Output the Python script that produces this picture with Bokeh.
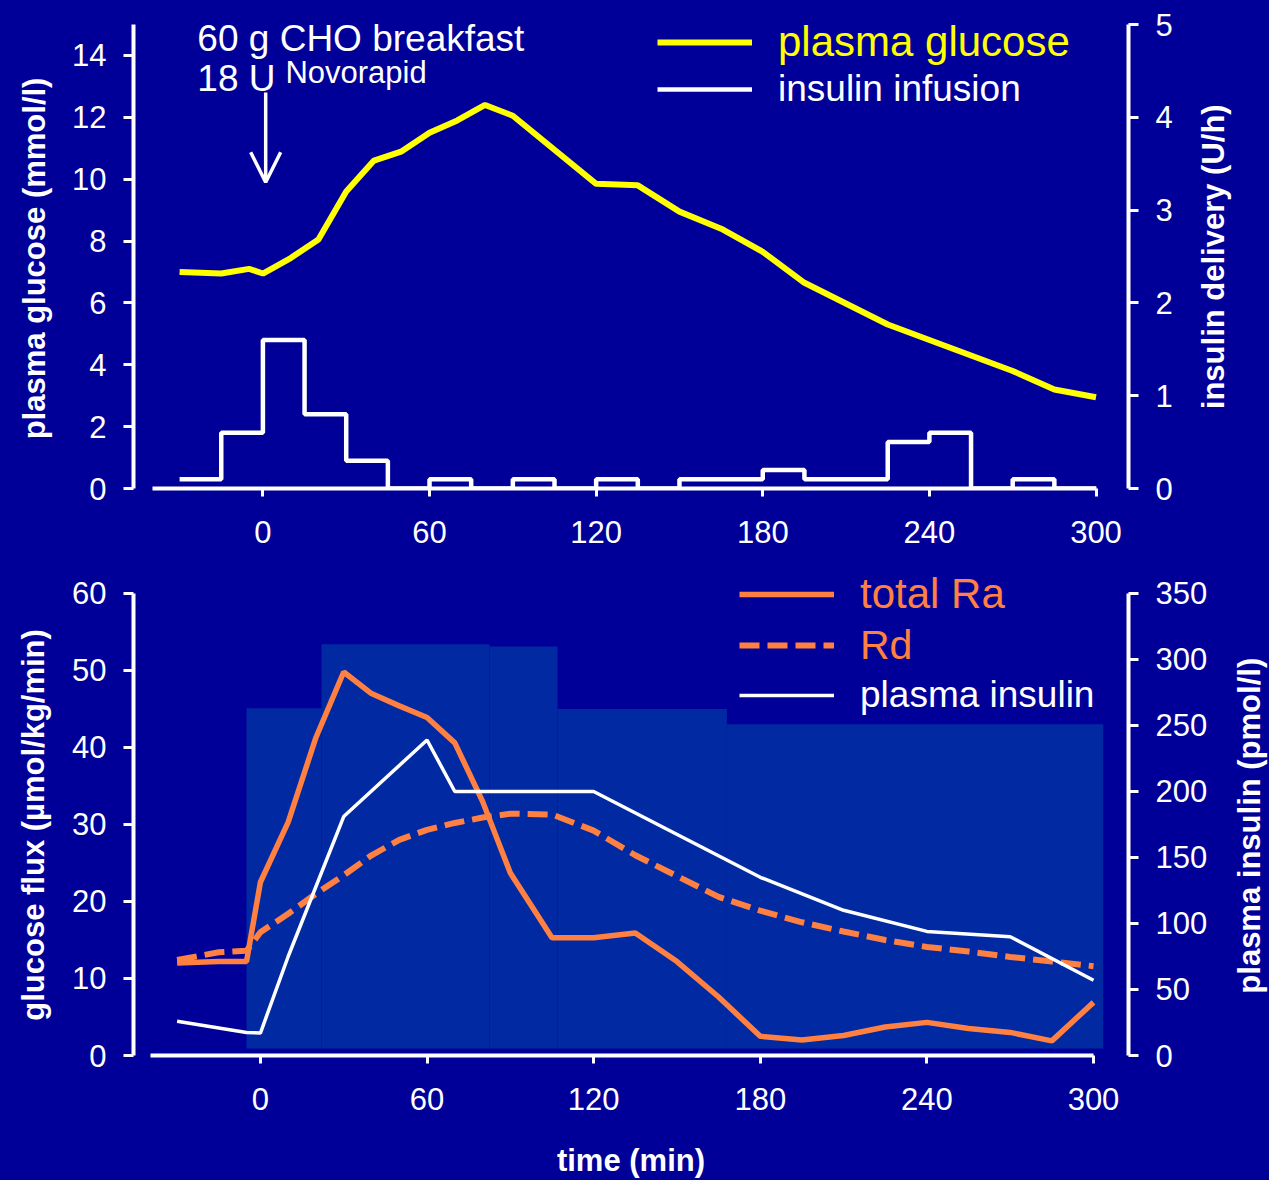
import math
from bokeh.plotting import figure
from bokeh.models import (Range1d, LinearAxis, FixedTicker, Legend, LegendItem,
                          Label, Arrow, OpenHead)
from bokeh.layouts import column, row
from bokeh.embed import file_html
from bokeh.resources import INLINE

# ---------------- data ----------------
# top panel
glu_time = [-30, -15, -5, 0, 10, 20, 30, 40, 50, 60, 70, 80, 90, 120, 135, 150, 165,
            180, 195, 225, 270, 285, 300]
glucose = [7.0, 6.95, 7.1, 6.95, 7.45, 8.05, 9.6, 10.6, 10.9, 11.5, 11.9, 12.4, 12.05,
           9.85, 9.8, 8.95, 8.4, 7.65, 6.65, 5.3, 3.8, 3.2, 2.95]

inf_time = [-30, -15, 0, 15, 30, 45, 60, 75, 90, 105, 120, 135, 150, 165, 180, 195,
            210, 225, 240, 255, 270, 285, 300]
inf_rate = [0.1, 0.6, 1.6, 0.8, 0.3, 0.0, 0.1, 0.0, 0.1, 0.0, 0.1, 0.0, 0.1, 0.1, 0.2,
            0.1, 0.1, 0.5, 0.6, 0.0, 0.1, 0.0, 0.0]

# bottom panel
flux_time = [-30, -15, -5, 0, 10, 20, 30, 40, 50, 60, 70, 80, 90, 105, 120, 135, 150,
             165, 180, 195, 210, 225, 240, 255, 270, 285, 300]
total_ra = [12.0, 12.2, 12.2, 22.5, 30.3, 41.3, 49.8, 47.0, 45.4, 43.9, 40.6, 33.0, 23.7,
            15.3, 15.3, 15.9, 12.2, 7.6, 2.5, 2.0, 2.6, 3.7, 4.3, 3.5, 3.0, 1.9, 6.9]
rd = [12.4, 13.4, 13.6, 16.0, 18.4, 21.0, 23.4, 26.0, 28.0, 29.3, 30.2, 30.9, 31.4,
      31.3, 29.2, 26.0, 23.3, 20.6, 18.8, 17.3, 16.1, 15.0, 14.1, 13.5, 12.8, 12.2, 11.6]

ins_time = [-30, -5, 0, 10, 30, 60, 70, 120, 180, 210, 240, 270, 300]
plasma_insulin = [26, 17.5, 17, 75, 181, 239, 200, 200, 135, 110, 94, 90, 57]

# background blocks behind the bottom panel (time, flux units)
blk_left = [-5, 22, 82.5, 107, 168]
blk_right = [22, 82.5, 107, 168, 303.5]
blk_top = [45.1, 53.4, 53.1, 45.0, 43.0]
blk_bottom = [0.9, 0.9, 0.9, 0.9, 0.9]

time_ticks = [0, 60, 120, 180, 240, 300]
glu_ticks = [0, 2, 4, 6, 8, 10, 12, 14]
del_ticks = [0, 1, 2, 3, 4, 5]
flux_ticks = [0, 10, 20, 30, 40, 50, 60]
pins_ticks = [0, 50, 100, 150, 200, 250, 300, 350]

# ---------------- style ----------------
BG = "#000099"
BLOCK = "#0029A2"
YELLOW = "#FFFF00"
ORANGE = "#FF8040"
FONT = "Liberation Sans"
TICK_FS = "31px"
LAB_FS = "31px"


def style_axis(ax, ticks, standoff_label=17, standoff_title=22):
    ax.ticker = FixedTicker(ticks=ticks)
    ax.axis_line_color = "white"
    ax.axis_line_width = 4
    ax.major_tick_line_color = "white"
    ax.major_tick_line_width = 3
    ax.major_tick_out = 10
    ax.major_tick_in = 0
    ax.minor_tick_line_color = None
    ax.major_label_text_color = "white"
    ax.major_label_text_font = FONT
    ax.major_label_text_font_size = TICK_FS
    ax.major_label_standoff = standoff_label
    ax.axis_label_text_color = "white"
    ax.axis_label_text_font = FONT
    ax.axis_label_text_font_style = "bold"
    ax.axis_label_text_font_size = LAB_FS
    ax.axis_label_standoff = standoff_title


def base_fig(width, height, xr, yr, mbl, mbr, mbt, mbb):
    p = figure(width=width, height=height, x_range=xr, y_range=yr,
               output_backend="svg", toolbar_location=None,
               min_border_left=mbl, min_border_right=mbr,
               min_border_top=mbt, min_border_bottom=mbb)
    p.background_fill_color = BG
    p.border_fill_color = BG
    p.outline_line_color = None
    p.xgrid.grid_line_color = None
    p.ygrid.grid_line_color = None
    return p


def title_strip(width, height, text, cx, cy):
    """Narrow strip holding a vertical axis title (reads upward)."""
    s = figure(width=width, height=height, x_range=Range1d(0, width),
               y_range=Range1d(0, height), output_backend="svg",
               toolbar_location=None, x_axis_location=None, y_axis_location=None,
               min_border=0)
    s.background_fill_color = BG
    s.border_fill_color = BG
    s.outline_line_color = None
    s.xgrid.grid_line_color = None
    s.ygrid.grid_line_color = None
    s.add_layout(Label(x=cx, y=cy, text=text, angle=math.pi / 2,
                       text_align="center", text_baseline="middle",
                       text_color="white", text_font=FONT,
                       text_font_style="bold", text_font_size=LAB_FS))
    return s


def add_key(p, renderer, text, color, size, x, yc):
    lg = Legend(items=[LegendItem(label=text, renderers=[renderer])],
                location=(x, yc - 25), orientation="vertical",
                padding=0, margin=0, spacing=0,
                glyph_width=95, glyph_height=50, label_height=50,
                label_standoff=26, label_text_color=color,
                label_text_font=FONT, label_text_font_size=size,
                background_fill_alpha=0, border_line_alpha=0)
    p.add_layout(lg)


# ---------------- top panel ----------------
# frame spans 483 px; 0..15 occupies the lower 464 px
TOP_EXT = 483 / 464
top = base_fig(1135, 570, Range1d(-46.6, 311.7), Range1d(0, 15 * TOP_EXT), 73, 67, 5, 82)
top.extra_y_ranges = {"del": Range1d(0, 5 * TOP_EXT)}

r_inf = top.step(inf_time, inf_rate, mode="after", y_range_name="del",
                 line_color="white", line_width=4.5)
r_glu = top.line(glu_time, glucose, line_color=YELLOW, line_width=6)

xa = top.xaxis[0]
style_axis(xa, time_ticks, standoff_label=24)
xa.bounds = (-39.6, 300)
xa.major_tick_out = 8

ya = top.yaxis[0]
style_axis(ya, glu_ticks)
ya.bounds = (0, 15)

ra = LinearAxis(y_range_name="del")
style_axis(ra, del_ticks)
ra.bounds = (0, 5)
top.add_layout(ra, "right")

top.add_layout(Label(x=-23.6, y=14.55, text="60 g CHO breakfast", text_color="white",
                     text_font=FONT, text_font_size="37px", text_baseline="alphabetic"))
top.add_layout(Label(x=-23.6, y=13.25, text="18 U", text_color="white",
                     text_font=FONT, text_font_size="37px", text_baseline="alphabetic"))
top.add_layout(Label(x=8.1, y=13.45, text="Novorapid", text_color="white",
                     text_font=FONT, text_font_size="31px", text_baseline="alphabetic"))
top.add_layout(Arrow(end=OpenHead(size=30, line_color="white", line_width=3.5),
                     x_start=1, y_start=12.8, x_end=1, y_end=9.9,
                     line_color="white", line_width=3.5))

add_key(top, r_glu, "plasma glucose", YELLOW, "42px", 524, 446)
add_key(top, r_inf, "insulin infusion", "white", "37px", 524, 399)

tl = title_strip(60, 570, "plasma glucose (mmol/l)", 34, 271.5)
tr = title_strip(74, 570, "insulin delivery (U/h)", 18, 273.5)

# ---------------- bottom panel ----------------
# frame spans 486 px; 0..60 occupies the lower 463 px
BOT_EXT = 486 / 463
bot = base_fig(1155, 610, Range1d(-45.7, 312.6), Range1d(0, 60 * BOT_EXT), 73, 87, 0, 124)
bot.extra_y_ranges = {"pins": Range1d(0, 350 * BOT_EXT)}

bot.quad(left=blk_left, right=blk_right, bottom=blk_bottom, top=blk_top,
         fill_color=BLOCK, line_color=None)
r_rd = bot.line(flux_time, rd, line_color=ORANGE, line_width=6, line_dash="20 8")
r_ra = bot.line(flux_time, total_ra, line_color=ORANGE, line_width=5.5)
r_pi = bot.line(ins_time, plasma_insulin, y_range_name="pins",
                line_color="white", line_width=3.5)

xb = bot.xaxis[0]
style_axis(xb, time_ticks, standoff_label=24, standoff_title=30)
xb.bounds = (-39.6, 300)
xb.major_tick_out = 8
xb.axis_label = "time (min)"

yb = bot.yaxis[0]
style_axis(yb, flux_ticks)
yb.bounds = (0, 60)

rb = LinearAxis(y_range_name="pins")
style_axis(rb, pins_ticks)
rb.bounds = (0, 350)
bot.add_layout(rb, "right")

add_key(bot, r_ra, "total Ra", ORANGE, "42px", 606, 461)
add_key(bot, r_rd, "Rd", ORANGE, "41px", 606, 410)
add_key(bot, r_pi, "plasma insulin", "white", "37px", 606, 360)

bl = title_strip(60, 610, "glucose flux (µmol/kg/min)", 33, 290)
br = title_strip(54, 610, "plasma insulin (pmol/l)", 34, 289)

page = column(row(tl, top, tr, spacing=0), row(bl, bot, br, spacing=0), spacing=0)
page.styles = {"background-color": BG}

open("out.html", "w").write(file_html(page, INLINE))
